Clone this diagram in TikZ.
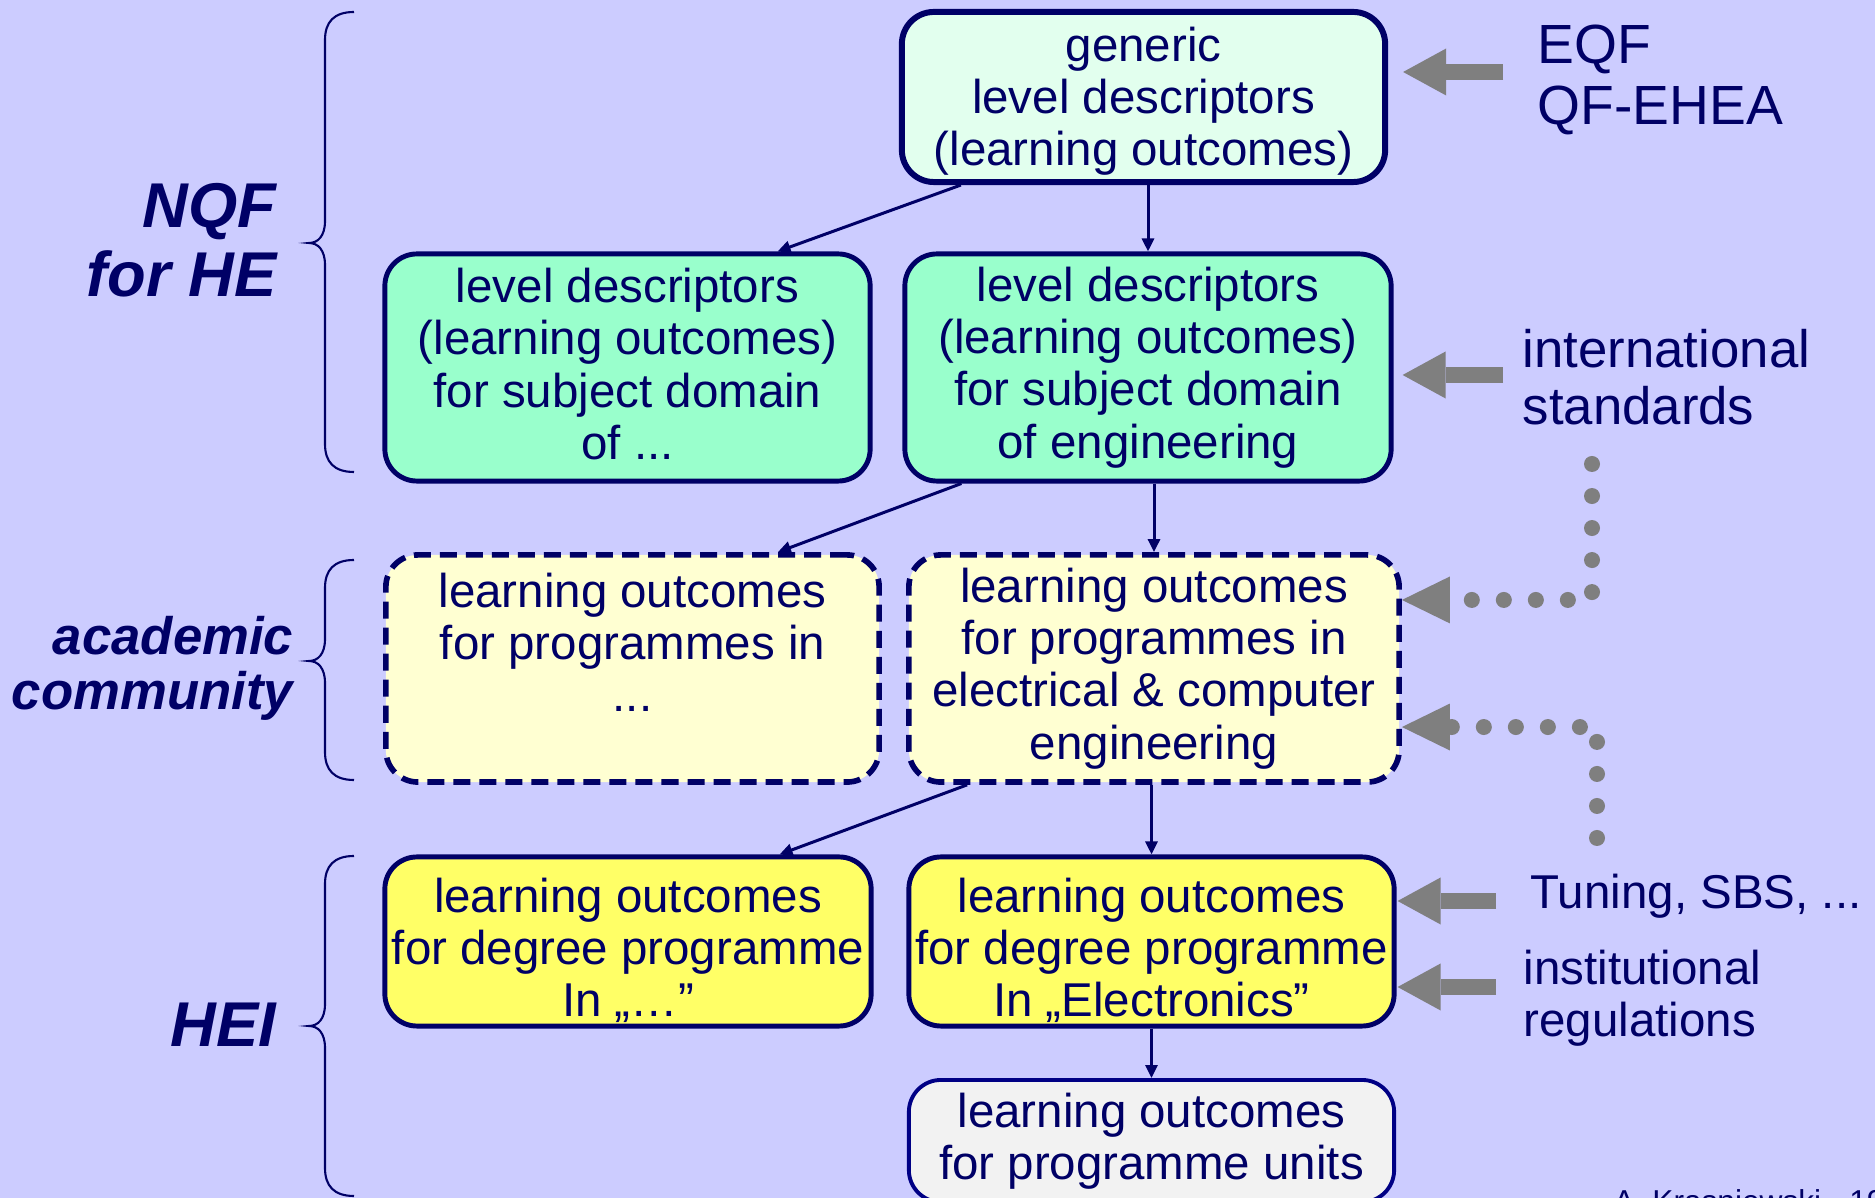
\documentclass[tikz,border=0pt]{standalone}
\usepackage{fontspec}
\setmainfont{Liberation Sans}
\usetikzlibrary{arrows.meta,calc}

\definecolor{lavender}{HTML}{CCCCFF}
\definecolor{navy}{HTML}{000066}
\definecolor{mint}{HTML}{E2FFEE}
\definecolor{aqua}{HTML}{99FFCC}
\definecolor{cream}{HTML}{FFFFD2}
\definecolor{lemon}{HTML}{FFFF66}
\definecolor{paper}{HTML}{F2F2F2}
\definecolor{ash}{HTML}{7F7F7F}

\newcommand{\boxfont}{\fontsize{13.5}{14.9}\selectfont}

\begin{document}
\begin{tikzpicture}[x=0.01cm, y=-0.01cm,
  box/.style={draw=navy, line width=1.4pt, rounded corners=0.32cm, text=navy, align=center, inner sep=0pt, font=\boxfont, minimum height=2.27cm},
  dbox/.style={box, line width=1.6pt, dash pattern=on 0.17cm off 0.09cm, fill=cream},
  flow/.style={navy, line width=0.85pt, -{Triangle[length=0.13cm,width=0.12cm]}},
  feed/.style={ash, line width=0.155cm, -{Triangle[length=0.43cm,width=0.47cm,line width=0pt]}},
  hint/.style={ash, line width=0.16cm, line cap=round, dash pattern=on 0pt off 0.32cm, -{Triangle[length=0.48cm,width=0.47cm,line width=0pt]}},
  side/.style={text=navy, align=left, inner sep=0pt, anchor=west},
  lab/.style={text=navy, align=right, inner sep=0pt, anchor=east},
  brace/.style={navy, line width=0.6pt}]

\fill[lavender] (0,0) rectangle (1875,1198);
\useasboundingbox (0,0) rectangle (1875,1198);

\node[box, fill=mint, line width=1.7pt, minimum width=4.83cm, minimum height=1.70cm] (gen) at (1143.5,97) {\rule{0pt}{0.43cm}generic\\level descriptors\\(learning outcomes)};
\node[box, fill=aqua, minimum width=4.85cm] (dom) at (627.5,367.5) {level descriptors\\(learning outcomes)\\for subject domain\\of ...\rule[-0.07cm]{0pt}{0pt}};
\node[box, fill=aqua, minimum width=4.86cm] (eng) at (1148,367.5) {level descriptors\\(learning outcomes)\\for subject domain\\of engineering};
\node[dbox, minimum width=4.93cm] (prog) at (632.5,668.5) {learning outcomes\\for programmes in\\...\\\mbox{}};
\node[dbox, minimum width=4.90cm] (ece) at (1154,668.5) {learning outcomes\\for programmes in\\electrical \& computer\\engineering};
\node[box, fill=lemon, minimum width=4.86cm, minimum height=1.69cm] (deg) at (628,941.5) {\rule{0pt}{0.52cm}learning outcomes\\for degree programme\\In „…”};
\node[box, fill=lemon, minimum width=4.85cm, minimum height=1.69cm] (elec) at (1151.5,941.5) {\rule{0pt}{0.52cm}learning outcomes\\for degree programme\\In „Electronics”};
\node[box, fill=paper, draw=navy!80!blue, line width=1.1pt, minimum width=4.85cm, minimum height=1.22cm] (unit) at (1151.5,1141) {learning outcomes\\for programme units};

\draw[flow] ([xshift=0.62cm]gen.south west) -- ([xshift=-0.95cm]dom.north east);
\draw[flow] (gen.south -| eng.north) -- (eng.north);
\draw[flow] ([xshift=0.59cm]eng.south west) -- ([xshift=-1.04cm]prog.north east);
\draw[flow] (eng.south -| ece.north) -- (ece.north);
\draw[flow] ([xshift=0.61cm]ece.south west) -- ([xshift=-0.94cm]deg.north east);
\draw[flow] (ece.south -| elec.north) -- (elec.north);
\draw[flow] (elec.south) -- (unit.north);

\node[side, font=\fontsize{15.7}{17.2}\selectfont] (eqf) at (1537,80) {EQF\\QF-EHEA};
\node[side, font=\fontsize{15}{16.3}\selectfont] (std) at (1522,377) {international\\standards};
\node[side, font=\boxfont] (tun) at (1530,896) {Tuning, SBS, ...};
\node[side, font=\fontsize{13.5}{14.8}\selectfont] (reg) at (1523,998) {institutional\\regulations};

\coordinate (eqf-in) at (1503,72);
\coordinate (std-in) at (1503,375);
\coordinate (tun-in) at (1496,901);
\coordinate (reg-in) at (1496,987);
\draw[feed] (eqf-in) -- ([xshift=0.15cm]gen.east |- eqf-in);
\draw[feed] (std-in) -- ([xshift=0.09cm]eng.east |- std-in);
\draw[feed] (tun-in) -- ([xshift=0.01cm]elec.east |- tun-in);
\draw[feed] (reg-in) -- ([xshift=0.01cm]elec.east |- reg-in);

\coordinate (std-out) at (1592,464);
\coordinate (tun-out) at (1597,838);
\draw[hint] (std-out) |- ([yshift=0.685cm]ece.east);
\draw[hint] (tun-out) |- ([yshift=-0.585cm]ece.east);

\node[lab, font=\fontsize{18}{19.6}\selectfont\bfseries\itshape] (nqf) at (277,240) {NQF\\for HE};
\node[lab, font=\fontsize{15}{15.6}\selectfont\bfseries\itshape] (acad) at (294,668) {academic\\community};
\node[lab, font=\fontsize{18}{19.6}\selectfont\bfseries\itshape] (hei) at (277,1025) {HEI};

\draw[brace] (354,12) .. controls (334,12) and (325,22) .. (325,40) -- (325,221) .. controls (325,236) and (318,243) .. (309,243) .. controls (318,243) and (325,250) .. (325,265) -- (325,444) .. controls (325,462) and (334,472) .. (354,472);
\draw[brace] (354,560) .. controls (334,560) and (325,570) .. (325,588) -- (325,639) .. controls (325,654) and (318,661) .. (309,661) .. controls (318,661) and (325,668) .. (325,683) -- (325,752) .. controls (325,770) and (334,780) .. (354,780);
\draw[brace] (354,856) .. controls (334,856) and (325,866) .. (325,884) -- (325,1004) .. controls (325,1019) and (318,1026) .. (309,1026) .. controls (318,1026) and (325,1033) .. (325,1048) -- (325,1168) .. controls (325,1186) and (334,1196) .. (354,1196);

\node[anchor=north west, inner sep=0pt, text=navy, font=\fontsize{9}{10}\selectfont] (sign) at (1613,1189) {A. Krasniewski - 19};

\end{tikzpicture}
\end{document}
